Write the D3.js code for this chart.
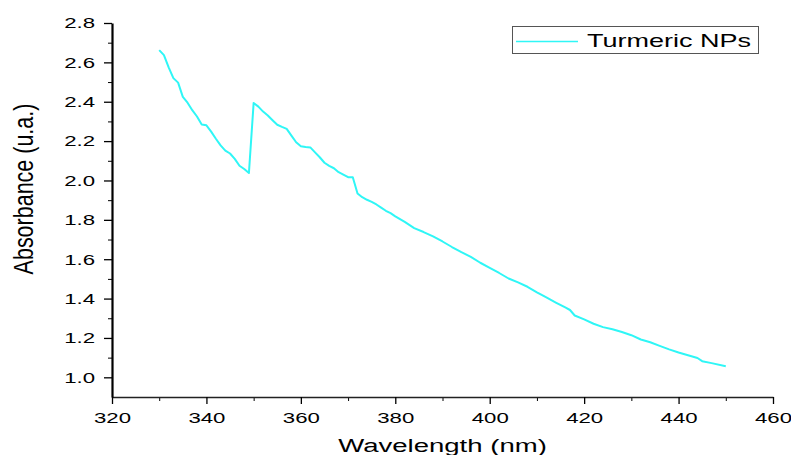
<!DOCTYPE html>
<html>
<head>
<meta charset="utf-8">
<script src="https://cdn.jsdelivr.net/npm/d3@7"></script>
<style>
  body { margin: 0; background: #fff; }
  text { font-family: "Liberation Sans", Arial, sans-serif; fill: #000; }
</style>
</head>
<body>
<div class="mainWrapper"></div>
<script>
// wavelength (nm) and absorbance
var wavelength = [330,331,332,333,334,335,336,337,338,339,340,341,342,343,344,345,346,347,348,349,
  350,351,352,353,354,355,356,357,358,359,360,361,362,363,364,365,366,367,368,369,370,371,372,373,374,
  375,376,377,378,379,380,382,384,386,388,390,392,394,396,398,400,402,404,406,408,410,412,414,416,417,
  418,420,422,424,426,428,430,432,434,436,438,440,442,444,445,447,450];
var absorbance = [2.662,2.637,2.575,2.520,2.497,2.425,2.395,2.357,2.325,2.284,2.280,2.248,2.212,2.178,2.152,2.137,2.110,2.075,2.058,2.038,
  2.394,2.375,2.350,2.330,2.306,2.283,2.272,2.262,2.228,2.194,2.174,2.170,2.168,2.143,2.118,2.090,2.074,2.062,2.042,2.030,2.017,2.016,1.934,1.915,1.902,
  1.891,1.878,1.862,1.846,1.834,1.818,1.790,1.758,1.738,1.716,1.690,1.662,1.636,1.612,1.582,1.556,1.530,1.502,1.482,1.460,1.432,1.406,1.380,1.355,1.342,
  1.314,1.294,1.272,1.255,1.244,1.230,1.214,1.192,1.178,1.160,1.142,1.126,1.112,1.098,1.082,1.072,1.056];
var xTicks = [320,340,360,380,400,420,440,460];
var xMinor = [330,350,370,390,410,430,450];
var yTicks = [1.0,1.2,1.4,1.6,1.8,2.0,2.2,2.4,2.6,2.8];
var yMinor = [1.1,1.3,1.5,1.7,1.9,2.1,2.3,2.5,2.7];
var seriesName = "Turmeric NPs";

var W = 791, H = 455;
var margin = {top: 23, right: 18, bottom: 58, left: 112},
    width = W - margin.left - margin.right,
    height = H - margin.top - margin.bottom;
var sx = 1.48; // the original text is stretched sideways

var root = d3.select(".mainWrapper")
  .append("svg")
    .attr("width", W)
    .attr("height", H);

var svg = root.append("g")
    .attr("transform", "translate(" + margin.left + "," + margin.top + ")");

var x = d3.scaleLinear().domain([320, 460]).range([0, width]);
var y = d3.scaleLinear().domain([0.9, 2.8]).range([height, 0]);

// minor ticks
svg.append("g")
  .attr("transform", "translate(0," + height + ")")
  .call(d3.axisBottom(x).tickValues(xMinor).tickSize(4).tickFormat(""))
  .call(function(g){ g.select(".domain").remove(); });
svg.append("g")
  .call(d3.axisLeft(y).tickValues(yMinor).tickSize(4).tickFormat(""))
  .call(function(g){ g.select(".domain").remove(); });

// x axis
var xAxis = svg.append("g")
  .attr("class", "xAxis")
  .attr("transform", "translate(0," + height + ")")
  .call(d3.axisBottom(x).tickValues(xTicks).tickSize(7).tickSizeOuter(0).tickPadding(8).tickFormat(d3.format("d")));
xAxis.select(".domain").attr("stroke", "#222").attr("stroke-width", 1.6);
xAxis.selectAll(".tick line").attr("stroke-width", 1.3);
xAxis.selectAll("text")
  .attr("font-size", 15)
  .attr("font-family", "Liberation Sans, Arial, sans-serif")
  .attr("transform", "scale(" + sx + ",1)");

// y axis
var yAxis = svg.append("g")
  .attr("class", "yAxis")
  .call(d3.axisLeft(y).tickValues(yTicks).tickSize(8).tickSizeOuter(0).tickPadding(9).tickFormat(d3.format(".1f")));
yAxis.select(".domain").attr("stroke", "#000").attr("stroke-width", 2.2);
yAxis.selectAll(".tick line").attr("stroke-width", 1.3);
yAxis.selectAll("text")
  .attr("font-size", 15)
  .attr("font-family", "Liberation Sans, Arial, sans-serif")
  .attr("x", -17 / sx)
  .attr("transform", "scale(" + sx + ",1)");

// axis titles
svg.append("text")
  .attr("transform", "translate(" + (442.5 - margin.left) + "," + (451.5 - margin.top) + ") scale(1.45,1)")
  .attr("text-anchor", "middle")
  .attr("font-size", 19)
  .text("Wavelength (nm)");

svg.append("text")
  .attr("transform", "translate(" + (33 - margin.left) + "," + (189 - margin.top) + ") scale(1.3,1) rotate(-90)")
  .attr("text-anchor", "middle")
  .attr("font-size", 21.5)
  .text("Absorbance (u.a.)");

// the spectrum
svg.append("path")
  .datum(d3.zip(wavelength, absorbance))
  .attr("fill", "none")
  .attr("stroke", "#2ff6f6")
  .attr("stroke-width", 2)
  .attr("stroke-linejoin", "round")
  .attr("d", d3.line()
    .x(function(d) { return x(d[0]); })
    .y(function(d) { return y(d[1]); }));

// legend
var legend = svg.append("g")
  .attr("transform", "translate(" + (512 - margin.left) + "," + (26 - margin.top) + ")");
legend.append("rect")
  .attr("x", 0.5).attr("y", 0.5)
  .attr("width", 246).attr("height", 27)
  .attr("fill", "#fff")
  .attr("stroke", "#555")
  .attr("stroke-width", 1);
legend.append("line")
  .attr("x1", 4).attr("x2", 66)
  .attr("y1", 15.5).attr("y2", 15.5)
  .attr("stroke", "#2ff6f6")
  .attr("stroke-width", 1.5);
legend.append("text")
  .attr("transform", "translate(75,20.7) scale(1.5,1)")
  .attr("font-size", 18)
  .text(seriesName);
</script>
</body>
</html>
